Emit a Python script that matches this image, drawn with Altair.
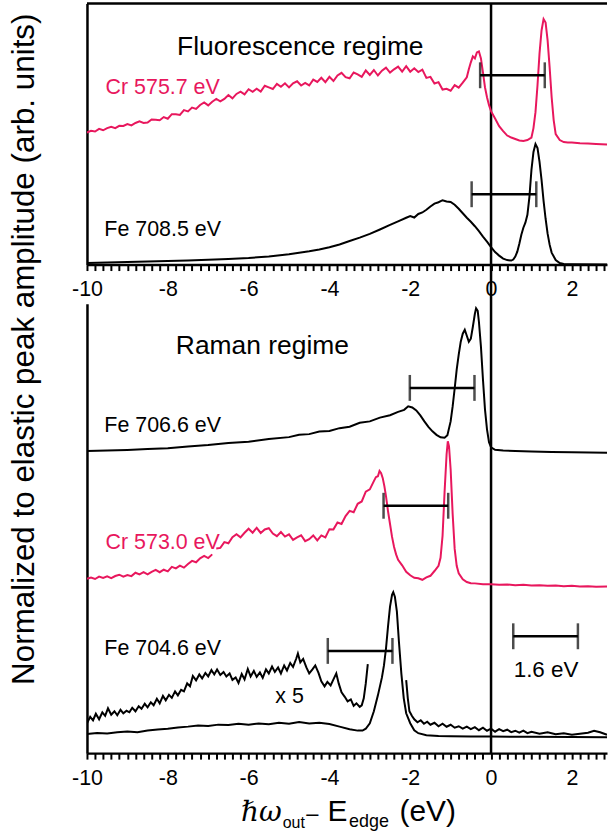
import altair as alt
import pandas as pd

PINK = "#E8175D"
BLACK = "#000000"
FONT = "Liberation Sans"

X_MIN, X_MAX = -10.0, 2.87
W = 522
H_TOP = 262
H_BOT = 451
GAP = 39.4


def grid(start, stop, step):
    n = int(round((stop - start) / step)) + 1
    return [round(start + i * step, 2) for i in range(n)]


# ---------------- Fluorescence regime (top panel) ----------------
# Cr 575.7 eV (pink)
cr575_x = grid(-10.0, -0.7, 0.1) + [
    -0.6, -0.55, -0.5, -0.45, -0.4, -0.35, -0.3, -0.25, -0.2, -0.15, -0.1, -0.05,
    0.0, 0.1, 0.2, 0.3, 0.4, 0.5, 0.6, 0.7, 0.8, 0.9,
    1.0, 1.05, 1.1, 1.15, 1.2, 1.25, 1.3, 1.35, 1.4, 1.45, 1.5, 1.55, 1.6,
    1.7, 1.8, 1.9, 2.0, 2.2, 2.4, 2.6, 2.87]
cr575_y = [
    132.6, 134.2, 133.6, 136.2, 134.8, 136.9, 138.4, 137.0, 139.3, 139.1,
    141.1, 139.7, 142.1, 143.7, 142.2, 142.5, 145.7, 145.4, 144.8, 148.1,
    146.4, 151.0, 150.9, 150.2, 155.0, 153.8, 157.6, 156.2, 160.2, 162.7,
    159.8, 163.5, 166.2, 163.9, 166.3, 170.2, 166.9, 171.3, 173.6, 170.8,
    176.0, 173.4, 176.5, 173.6, 179.5, 177.8, 176.2, 181.4, 178.5, 182.0,
    177.9, 182.0, 184.0, 179.7, 182.4, 179.8, 185.6, 183.3, 187.5, 183.1,
    188.5, 184.3, 189.8, 192.5, 188.2, 187.0, 192.8, 190.9, 188.4, 194.8,
    190.3, 195.3, 189.8, 194.6, 197.6, 192.7, 196.0, 198.7, 193.6, 199.1,
    193.6, 197.0, 193.3, 195.7, 187.4, 188.4, 181.8, 183.1, 175.7, 176.5,
    174.5, 180.2, 177.6, 182.6,
    188.0, 196.0, 203.0, 209.0, 207.0, 213.0, 214.0, 207.0, 193.0, 178.0, 168.0, 160.0,
    154.0, 146.6, 139.0, 134.0, 129.5, 127.5, 126.0, 124.5, 124.0, 125.0,
    127.5, 137.0, 153.0, 180.0, 212.0, 235.0, 246.5, 243.0, 225.0, 198.0, 168.0, 145.0, 131.0,
    125.0, 123.0, 122.6, 122.5, 121.8, 121.5, 121.0, 120.5]

# Fe 708.5 eV (black)
fe708_x = [-10, -9.5, -9, -8.5, -8, -7.5, -7, -6.5, -6, -5.5, -5, -4.5,
           -4.25, -4, -3.75, -3.5, -3.25, -3, -2.75, -2.5,
           -2.3, -2.1, -2.0, -1.9, -1.8, -1.7, -1.6, -1.5, -1.4, -1.3, -1.2, -1.1, -1.0,
           -0.9, -0.8, -0.7, -0.6, -0.5, -0.4, -0.3, -0.2, -0.1, 0.0,
           0.1, 0.2, 0.3, 0.4, 0.5,
           0.55, 0.6, 0.65, 0.7, 0.75, 0.8, 0.85, 0.9, 0.95, 1.0,
           1.05, 1.1, 1.15, 1.2, 1.25, 1.3, 1.35, 1.4, 1.45, 1.5,
           1.6, 1.7, 1.8, 2.0, 2.87]
fe708_y = [1.5, 2.0, 2.5, 3.0, 3.5, 4.2, 4.8, 5.6, 6.6, 8.2, 10.3, 13.4,
           15.2, 17.4, 20.2, 23.6, 27.0, 30.8, 35.2, 39.8,
           43.4, 47.0, 48.6, 47.2, 50.8, 52.3, 55.0, 58.3, 61.2, 62.6, 64.6, 63.4, 62.8,
           60.0, 56.0, 51.5, 47.0, 43.0, 38.5, 33.5, 28.0, 23.0, 17.5,
           12.5, 9.0, 6.0, 4.5, 4.0,
           5.0, 8.0, 13.0, 21.0, 30.0, 37.0, 42.0, 50.0, 68.0, 95.0,
           113.0, 121.0, 117.0, 103.0, 85.0, 64.0, 46.0, 31.0, 20.0, 12.0,
           4.5, 1.5, 0.5, 0.3, 0.0]

# ---------------- Raman regime (bottom panel) ----------------
fe706_x = [-10, -9.5, -9, -8.5, -8, -7.5, -7, -6.5, -6, -5.5, -5,
           -4.75, -4.5, -4.25, -4, -3.75, -3.5, -3.25, -3, -2.75, -2.5,
           -2.3, -2.15, -2.05, -1.95, -1.85, -1.75, -1.65, -1.55, -1.45, -1.35, -1.25, -1.15, -1.08,
           -1.0, -0.95, -0.9, -0.85, -0.8, -0.75, -0.7, -0.65, -0.6, -0.55, -0.5, -0.45, -0.4,
           -0.37, -0.33, -0.3, -0.25, -0.2, -0.15, -0.1, -0.05, 0.0,
           0.1, 0.3, 0.6, 1.0, 1.5, 2.0, 2.87]
fe706_y = [303.3, 303.8, 304.3, 305.2, 306.0, 307.8, 309.2, 311.4, 312.6, 315.4, 317.2,
           319.6, 320.2, 322.8, 323.4, 326.2, 327.6, 331.6, 333.0, 336.8, 339.2,
           342.6, 344.6, 348.2, 347.0, 344.0, 339.0, 333.0, 327.5, 323.0, 319.5, 317.0, 316.5, 319.0,
           333.0, 348.0, 366.0, 385.0, 400.0, 413.0, 421.0, 425.0, 419.0, 413.0, 416.0, 428.0, 441.0,
           446.5, 444.0, 433.0, 408.0, 375.0, 345.0, 325.0, 312.0, 307.0,
           304.5, 303.8, 303.3, 302.8, 302.3, 302.0, 301.6]

# Cr 573.0 eV (pink), drawn in two pieces
cr573a_x = grid(-10.0, -6.9, 0.1)
cr573a_y = [175.0, 176.3, 174.8, 177.2, 175.8, 177.4, 175.7, 177.8, 179.1, 177.2,
            178.8, 177.7, 181.1, 179.5, 181.6, 179.4, 182.0, 184.0, 181.6, 184.1,
            182.5, 186.9, 185.4, 188.2, 186.2, 189.8, 193.0, 191.6, 195.6, 197.9,
            195.8, 199.5]
cr573b_x = grid(-6.8, -2.9, 0.1) + [
    -2.85, -2.8, -2.76, -2.72, -2.68, -2.64, -2.6,
    -2.55, -2.5, -2.45, -2.4, -2.35, -2.3,
    -2.2, -2.1, -2.0, -1.9, -1.8, -1.7, -1.6, -1.5, -1.4, -1.3,
    -1.25, -1.2, -1.15, -1.1, -1.07, -1.04, -1.0, -0.95, -0.9, -0.85, -0.8,
    -0.7, -0.6, -0.5, -0.4, -0.2,
    0.0, 0.2, 0.4, 0.6, 0.8, 1.0, 1.2, 1.4, 1.6, 1.8, 2.0, 2.2, 2.4, 2.6, 2.87]
cr573b_y = [
    205.5, 206.0, 211.8, 210.6, 216.8, 219.8, 216.6, 221.2, 225.3, 221.3,
    226.2, 221.0, 224.5, 225.8, 220.4, 217.8, 221.9, 217.4, 219.6, 214.0,
    216.6, 218.7, 212.8, 214.8, 218.5, 213.6, 218.5, 216.5, 224.8, 224.6,
    231.5, 230.0, 237.9, 243.2, 241.8, 250.3, 252.6, 262.5, 264.8, 273.0,
    277.0, 278.0, 283.3, 281.0, 276.0, 268.0, 258.0,
    243.0, 230.0, 217.0, 207.0, 199.5, 194.0,
    188.5, 182.0, 178.5, 176.0, 175.5, 174.0, 176.4, 178.0, 182.8, 188.0,
    196.0, 218.0, 262.0, 300.0, 313.0, 308.0, 285.0, 240.0, 205.0, 188.0, 180.5,
    174.5, 171.8, 170.6, 170.4, 169.6,
    169.6, 169.0, 169.3, 168.6, 168.9, 168.2, 168.5, 167.9, 168.2, 167.6, 167.9, 167.3, 167.6, 167.0,
    167.2]

# Fe 704.6 eV (black)
fe704_x = grid(-10.0, -3.5, 0.25) + [
    -3.3, -3.18, -3.1, -3.0, -2.9, -2.8, -2.7, -2.65, -2.6, -2.55, -2.5, -2.45, -2.42,
    -2.38, -2.33, -2.28, -2.22, -2.16, -2.1, -2.0, -1.9, -1.8, -1.6, -1.3, -1.0, -0.5,
    0.0, 1.0, 2.0, 2.87]
fe704_y = [19.3, 20.2, 19.8, 21.0, 21.6, 21.0, 22.8, 23.8, 24.5, 25.8,
           26.6, 27.8, 27.2, 28.6, 28.3, 29.4, 28.6, 29.8, 29.0, 30.4,
           29.6, 31.2, 29.8, 30.6, 29.2, 26.6, 24.0,
           22.6, 22.6, 24.5, 30.0, 42.0, 58.0, 76.0, 88.0, 105.0, 127.0, 147.0, 159.0, 161.6,
           157.0, 142.0, 112.0, 80.0, 55.0, 40.0, 30.0, 23.0, 20.0, 18.0, 17.3, 17.0, 16.8,
           16.6, 16.4, 16.2, 16.0]

# Fe 704.6 eV magnified x 5 (two pieces)
x5a_x = [-10.00, -9.92, -9.85, -9.78, -9.70, -9.62, -9.55, -9.48, -9.40, -9.32,
         -9.25, -9.17, -9.10, -9.02, -8.95, -8.88, -8.80, -8.72, -8.65, -8.57,
         -8.50, -8.42, -8.35, -8.27, -8.20, -8.12, -8.05, -7.97, -7.90, -7.82,
         -7.75, -7.67, -7.60, -7.52, -7.45, -7.38, -7.30, -7.22, -7.15, -7.07,
         -7.00, -6.92, -6.85, -6.78, -6.70, -6.62, -6.55, -6.47, -6.40, -6.32,
         -6.25, -6.17, -6.10, -6.02, -5.95, -5.87, -5.80, -5.72, -5.65, -5.57,
         -5.50, -5.42, -5.35, -5.27, -5.20, -5.12, -5.05, -4.97, -4.90, -4.82,
         -4.78, -4.72, -4.65, -4.57, -4.50, -4.42, -4.35, -4.27, -4.20, -4.12,
         -4.05, -3.97, -3.90, -3.83, -3.77, -3.70, -3.62, -3.55, -3.47, -3.40,
         -3.33, -3.25, -3.20, -3.15, -3.10, -3.05]
x5a_y = [30.0, 36.5, 33.0, 39.5, 34.0, 41.0, 37.5, 45.0, 38.5, 42.0,
         38.0, 43.5, 40.0, 42.5, 41.0, 45.5, 42.0, 47.0, 44.5, 49.5,
         46.0, 51.0, 48.0, 54.5, 50.0, 57.5, 53.0, 58.5, 55.5, 62.0,
         58.0, 63.5, 62.0, 70.0, 67.0, 77.5, 73.0, 79.0, 75.0, 80.5,
         77.0, 83.5, 79.0, 84.0, 78.5, 81.5, 77.0, 80.0, 73.5, 76.0,
         70.5, 79.5, 74.0, 84.5, 77.0, 82.5, 76.5, 81.0, 75.5, 84.0,
         80.0, 87.0, 81.5, 86.0, 80.0, 88.0, 83.0, 90.5, 86.5, 95.0,
         100.0, 91.0, 94.5, 86.0, 80.0, 84.0, 88.0, 80.5, 72.0, 67.0,
         71.5, 68.0, 74.0, 80.0, 70.0, 61.0, 56.5, 52.0, 54.0, 47.5,
         50.0, 46.5, 48.0, 55.0, 70.0, 89.3]
x5b_x = [-2.10, -2.06, -2.02, -1.96, -1.90, -1.82, -1.74, -1.66, -1.58, -1.50] + \
    grid(-1.4, 0.9, 0.1) + [1.0, 1.2, 1.4, 1.6, 1.8, 2.0, 2.2, 2.4, 2.55, 2.70, 2.87]
x5b_y = [73.3, 55.0, 42.0, 37.5, 34.0, 31.0, 33.0, 29.5, 31.5, 28.5,
         30.5, 27.0, 29.5, 26.5, 28.5, 25.5, 27.0, 24.5, 26.5, 24.0, 26.0, 23.0,
         25.5, 22.5, 24.5, 21.5, 24.0, 22.0, 23.5, 21.0, 22.5, 20.5, 22.5, 20.0,
         21.5, 19.5, 21.0, 19.0, 20.0, 18.5, 19.5, 20.5, 22.5, 21.0, 18.5]

# ---------------- 1.6 eV bars ----------------
top_bar_lo = [-0.27, -0.48]
top_bar_hi = [1.33, 1.12]
top_bar_y = [190.0, 70.6]
bot_bar_lo = [-2.01, -2.66, -4.04, 0.55]
bot_bar_hi = [-0.41, -1.06, -2.44, 2.15]
bot_bar_y = [366.6, 248.3, 102.6, 117.3]

# ---------------- axis ticks ----------------
major_ticks = [-10, -8, -6, -4, -2, 0, 2]
minor_ticks = grid(-10.0, 2.8, 0.2)
edge = [0.0]

# ---------------- build ----------------
xscale = alt.Scale(domain=[X_MIN, X_MAX], nice=False, zero=False)
yscale_top = alt.Scale(domain=[0, H_TOP], nice=False, zero=False)
yscale_bot = alt.Scale(domain=[0, H_BOT], nice=False, zero=False)

xaxis = alt.Axis(orient="bottom", values=minor_ticks,
                 labelExpr="datum.value % 2 == 0 ? '' + datum.value : ''",
                 ticks=True, tickSize=6, tickWidth=2, tickColor=BLACK,
                 domain=True, domainWidth=2.5, domainColor=BLACK, grid=False,
                 labelFont=FONT, labelFontSize=21.5, labelColor=BLACK, labelPadding=8,
                 labelFlush=False, labelOverlap=False, title=None)
yaxis_top = alt.Axis(orient="left", domain=True, domainWidth=2.5, domainColor=BLACK,
                     ticks=False, tickSize=0, labels=False, grid=False, title=None)
yaxis_bot = alt.Axis(orient="left", domain=True, domainWidth=2.5, domainColor=BLACK,
                     ticks=False, tickSize=0, labels=False, grid=False,
                     title="Normalized to elastic peak amplitude (arb. units)",
                     titleFont=FONT, titleFontSize=31.5, titleFontWeight="normal", titleColor=BLACK,
                     titleAngle=270, titleAlign="left", titleBaseline="alphabetic",
                     titleX=-54, titleY=382)

X = alt.X("x:Q", scale=xscale, axis=None)


def curve_df(pieces):
    frames = []
    for i, (xs, ys) in enumerate(pieces):
        assert len(xs) == len(ys), (len(xs), len(ys))
        frames.append(pd.DataFrame({"x": xs, "y": ys, "seg": i}))
    return pd.concat(frames, ignore_index=True)


def line(pieces, color, yscale, xax=None, yax=None):
    return alt.Chart(curve_df(pieces)).mark_line(color=color, strokeWidth=2, clip=True).encode(
        x=alt.X("x:Q", scale=xscale, axis=xax),
        y=alt.Y("y:Q", scale=yscale, axis=yax), detail="seg:N", order="x:Q")


def bars(lo, hi, ys, yscale):
    df = pd.DataFrame({"x": lo, "x2": hi, "y": ys})
    caps = pd.DataFrame({"x": lo + hi, "y": ys + ys})
    Y = alt.Y("y:Q", scale=yscale, axis=None)
    bar = alt.Chart(df).mark_rule(color=BLACK, strokeWidth=2.5).encode(x=X, x2="x2:Q", y=Y)
    cap = alt.Chart(caps).mark_tick(color=BLACK, orient="vertical", size=26, thickness=2.5).encode(x=X, y=Y)
    return [bar, cap]


def label(texts, xs, ys, yscale, color=BLACK, size=21.5, align="left"):
    df = pd.DataFrame({"x": xs, "y": ys, "t": texts})
    return alt.Chart(df).mark_text(color=color, font=FONT, fontSize=size, align=align,
                                   baseline="alphabetic").encode(
        x=X, y=alt.Y("y:Q", scale=yscale, axis=None), text="t:N")


def fragment(text, x, y, size, font=FONT, style="normal"):
    return alt.Chart(alt.Data(values=[{}])).mark_text(
        text=text, color=BLACK, font=font, fontSize=size, fontStyle=style,
        align="left", baseline="alphabetic").encode(x=alt.value(x), y=alt.value(y))


top_layers = [
    alt.Chart(alt.Data(values=[{}])).mark_rule(color=BLACK, strokeWidth=2.5).encode(
        x=alt.value(0), x2=alt.value(W), y=alt.value(0)),
    alt.Chart(pd.DataFrame({"x": edge})).mark_rule(color=BLACK, strokeWidth=2.5).encode(x=X),
    line([(fe708_x, fe708_y)], BLACK, yscale_top, xax=xaxis, yax=yaxis_top),
    line([(cr575_x, cr575_y)], PINK, yscale_top),
    *bars(top_bar_lo, top_bar_hi, top_bar_y, yscale_top),
    label(["Fluorescence regime"], [-4.72], [210.6], yscale_top, size=26.5, align="center"),
    label(["Cr 575.7 eV"], [-9.54], [171.6], yscale_top, color=PINK),
    label(["Fe 708.5 eV"], [-9.57], [29.0], yscale_top),
]
top = alt.layer(*top_layers).resolve_axis(x="independent", y="independent").properties(
    width=W, height=H_TOP)

bot_layers = [
    alt.Chart(pd.DataFrame({"x": edge})).mark_rule(color=BLACK, strokeWidth=2.5).encode(
        x=X, y=alt.value(-GAP), y2=alt.value(H_BOT)),
    line([(fe704_x, fe704_y)], BLACK, yscale_bot, xax=xaxis, yax=yaxis_bot),
    line([(x5a_x, x5a_y), (x5b_x, x5b_y)], BLACK, yscale_bot),
    line([(fe706_x, fe706_y)], BLACK, yscale_bot),
    line([(cr573a_x, cr573a_y), (cr573b_x, cr573b_y)], PINK, yscale_bot),
    *bars(bot_bar_lo, bot_bar_hi, bot_bar_y, yscale_bot),
    label(["Raman regime"], [-7.80], [400.6], yscale_bot, size=26.5),
    label(["Fe 706.6 eV", "Fe 704.6 eV", "x 5"], [-9.57, -9.57, -5.34], [322.6, 98.3, 50.6], yscale_bot),
    label(["Cr 573.0 eV"], [-9.54], [205.0], yscale_bot, color=PINK),
    label(["1.6 eV"], [0.56], [76.6], yscale_bot, size=22.5),
    fragment("ℏω", 154.7, 519.3, 28, font="DejaVu Serif", style="italic"),
    fragment("out", 196.5, 526.0, 16),
    fragment("–", 220.0, 519.3, 22),
    fragment("E", 241.5, 519.3, 30),
    fragment("edge", 263.0, 525.0, 18),
    fragment("(eV)", 313.7, 519.3, 30),
]
bottom = alt.layer(*bot_layers).resolve_axis(x="independent", y="independent").properties(
    width=W, height=H_BOT)

chart = alt.vconcat(top, bottom, spacing=GAP, bounds="flush").properties(
    padding={"left": 7.3, "top": 0, "right": 0, "bottom": 0}
).configure_view(stroke=None)

chart.save("out.html", embed_options={"renderer": "svg", "actions": False})
